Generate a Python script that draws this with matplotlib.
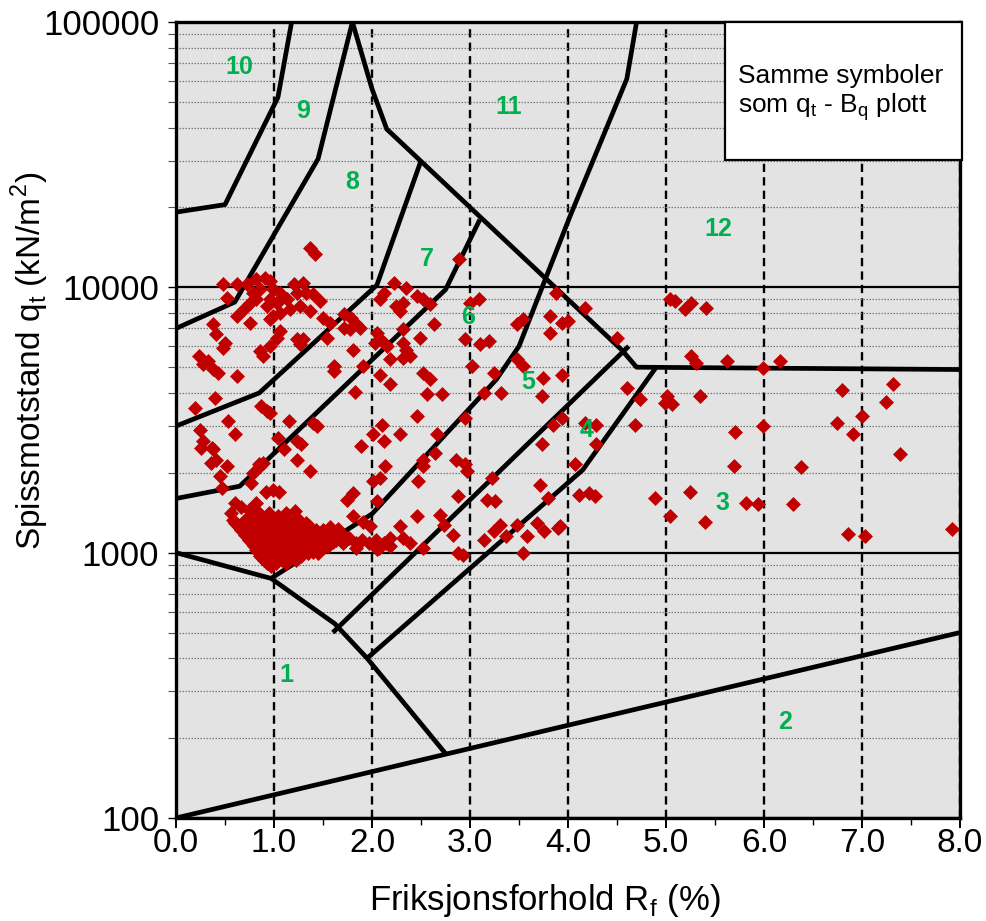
import matplotlib
matplotlib.use('Agg')
import matplotlib.pyplot as plt
from matplotlib.patches import Rectangle
from matplotlib.ticker import FixedLocator, FuncFormatter, NullFormatter

plt.rcParams['font.family'] = ['Liberation Sans', 'DejaVu Sans']
NARROW = ['Liberation Sans Narrow', 'Liberation Sans']

# ---------------- zone boundary lines (Rf %, qt kN/m2) ----------------
zone2_rf = [0.0, 8.0]
zone2_qt = [100, 500]
zone1_rf = [0.0, 0.97, 1.62, 1.95, 2.75]
zone1_qt = [1000, 800, 540, 400, 175]
zone10_rf = [0.0, 0.5, 1.04, 1.18]
zone10_qt = [19200, 20500, 52000, 100000]
zone9_rf = [0.0, 0.6, 1.45, 1.8]
zone9_qt = [7000, 8800, 30500, 100000]
zone11_rf = [1.8, 2.0, 2.15, 4.55, 4.7, 8.0]
zone11_qt = [100000, 56000, 39500, 5800, 5000, 4900]
zone8_rf = [0.0, 0.85, 2.05, 2.5]
zone8_qt = [3000, 4000, 10200, 30000]
zone7_rf = [0.0, 0.65, 2.75, 3.1]
zone7_qt = [1600, 1780, 9800, 18000]
zone6_rf = [0.97, 2.0, 3.27, 3.5, 4.02, 4.6, 4.7]
zone6_qt = [800, 1400, 4500, 6000, 18500, 61000, 100000]
zone5_rf = [1.6, 4.62]
zone5_qt = [500, 6000]
zone4_rf = [1.95, 4.15, 4.9]
zone4_qt = [400, 2050, 5000]
boundary_lines = [(zone2_rf, zone2_qt), (zone1_rf, zone1_qt), (zone10_rf, zone10_qt),
                  (zone9_rf, zone9_qt), (zone11_rf, zone11_qt), (zone8_rf, zone8_qt),
                  (zone7_rf, zone7_qt), (zone6_rf, zone6_qt), (zone5_rf, zone5_qt),
                  (zone4_rf, zone4_qt)]

# ---------------- zone labels ----------------
zone_names = ['1', '2', '3', '4', '5', '6', '7', '8', '9', '10', '11', '12']
zone_label_rf = [1.13, 6.21, 5.58, 4.19, 3.59, 2.98, 2.56, 1.80, 1.30, 0.65, 3.39, 5.53]
zone_label_qt = [347, 230, 1545, 2910, 4380, 7710, 12800, 24900, 46100, 67600, 47700, 16600]

# ---------------- measured points (Rf %, qt kN/m2) ----------------
pts_upper_left = [
    (0.48, 10260), (0.62, 10260), (0.72, 10260), (0.82, 10720), (0.91, 10870), (0.96, 10560),
    (0.86, 9830), (0.79, 9540), (0.99, 9830), (1.06, 9540), (0.96, 9010), (0.82, 9010),
    (0.76, 8750), (0.93, 8500), (1.03, 8750), (0.52, 9140), (1.13, 9010), (1.20, 10260),
    (1.30, 10420), (1.23, 9540), (1.33, 9540), (1.40, 9410), (1.47, 8880), (1.37, 8140),
    (1.27, 8500), (1.16, 8260), (1.06, 8020), (0.62, 7790), (0.76, 7350), (0.69, 8260),
    (0.99, 7790), (0.96, 7570), (1.50, 7680), (1.57, 7350), (1.06, 6840), (1.03, 6460),
    (0.96, 6000), (0.86, 5750), (0.89, 5510), (1.23, 6360), (1.30, 6360), (1.27, 6090),
    (1.54, 6460), (1.71, 7910), (1.79, 7680), (1.84, 7250), (1.78, 6940), (1.71, 7040),
    (1.88, 7040), (0.38, 7250), (0.41, 6650), (0.48, 5920), (0.50, 6180), (0.23, 5510),
    (0.28, 5120), (0.33, 5270), (0.38, 4910), (0.43, 4760), (0.62, 4630), (1.37, 14100),
    (1.42, 13400),
]
pts_left_mid = [
    (0.40, 3840), (0.19, 3520), (0.53, 3130), (0.60, 2790), (0.24, 2910), (0.28, 2630),
    (0.38, 2450), (0.41, 2240), (0.52, 2120), (0.45, 1940), (0.47, 1750), (0.79, 2000),
    (0.86, 2120), (0.89, 2180), (0.87, 3570), (0.93, 3420), (0.96, 3360), (1.15, 3130),
    (1.40, 3080), (1.44, 3000), (1.04, 2710), (1.10, 2450), (1.23, 2630), (1.28, 2560),
    (1.23, 2240), (1.37, 2030), (0.26, 2480), (0.37, 2480), (0.36, 2180), (0.92, 1700),
    (0.99, 1730), (1.05, 1700), (0.77, 1830), (0.85, 2150), (1.61, 5050), (1.61, 4830),
    (1.81, 5830), (1.91, 5050), (1.83, 4030),
]
pts_center = [
    (2.05, 6740), (2.12, 6180), (2.03, 6180), (2.08, 6360), (2.15, 6000), (2.18, 5350),
    (2.32, 6940), (2.32, 6180), (2.35, 5830), (2.39, 5510), (2.32, 5430), (2.49, 6460),
    (2.63, 7250), (2.25, 8500), (2.32, 8750), (2.29, 8140), (2.22, 10420), (2.35, 9970),
    (2.08, 9010), (2.12, 9540), (2.46, 9270), (2.52, 9010), (2.59, 8620), (2.08, 4690),
    (2.18, 4310), (2.52, 4760), (2.59, 4500), (2.46, 3270), (2.29, 2790), (2.10, 3040),
    (2.01, 2790), (2.12, 2630), (1.89, 2520), (2.13, 2120), (2.01, 1860), (2.08, 1910),
    (2.05, 1560), (2.47, 1860), (1.74, 1580), (1.81, 1680), (1.81, 1370), (1.91, 1300),
    (1.98, 1260), (2.12, 1090), (2.05, 1030), (2.18, 1140), (2.29, 1260), (2.32, 1140),
    (2.39, 1090), (2.46, 1370), (2.89, 12800),
]
pts_zone5_6 = [
    (3.24, 4760), (3.48, 5350), (3.54, 5050), (3.48, 7250), (3.54, 7570), (3.82, 6740),
    (3.88, 9540), (3.82, 7790), (3.94, 7350), (3.75, 4560), (3.94, 4690), (2.95, 6360),
    (3.10, 6090), (3.19, 6270), (3.02, 5050), (3.00, 8750), (3.09, 9010), (2.56, 3950),
    (2.71, 3950), (3.14, 4010), (3.32, 4010), (3.73, 3890), (2.66, 2790), (2.95, 3220),
    (3.85, 3040), (3.73, 2560), (2.64, 2380), (2.52, 2240), (2.52, 2120), (2.86, 2240),
    (2.95, 2150), (2.97, 2030), (3.22, 1915), (3.71, 1805), (2.88, 1633), (3.17, 1585),
    (3.26, 1563), (3.80, 1607), (2.69, 1390), (2.73, 1276), (2.83, 1169), (3.14, 1119),
    (3.24, 1203), (3.31, 1276), (3.37, 1153), (3.48, 1276), (3.58, 1153), (3.68, 1294),
    (3.76, 1203), (3.90, 1239), (2.52, 1041), (2.88, 997), (2.93, 982), (3.54, 997),
]
pts_right = [
    (4.17, 8380), (4.00, 7460), (4.50, 6460), (4.60, 4180), (4.73, 3780), (4.68, 3040),
    (4.29, 3040), (4.17, 3080), (3.94, 3220), (4.29, 2560), (4.07, 2150), (4.11, 1655),
    (4.21, 1680), (4.28, 1630), (3.92, 1260), (4.89, 1610), (5.04, 1370), (5.24, 1700),
    (5.40, 1300), (5.01, 3890), (4.99, 3665), (5.06, 3620), (5.35, 3890), (5.04, 9010),
    (5.09, 8880), (5.19, 8260), (5.26, 8750), (5.41, 8380), (5.26, 5510), (5.31, 5200),
    (5.62, 5270), (5.99, 4980), (6.16, 5270), (5.70, 2850), (5.99, 3000), (5.69, 2120),
    (5.82, 1540), (5.94, 1520), (6.30, 1520), (6.38, 2100), (6.80, 4090), (6.74, 3070),
    (6.91, 2790), (7.00, 3270), (7.24, 3690), (7.32, 4330), (7.39, 2360), (6.86, 1180),
    (7.03, 1160), (7.92, 1230),
]
pts_cluster = [
    (0.60, 1540), (0.82, 1540), (0.66, 1480), (0.74, 1450),
    (0.56, 1412), (0.85, 1412), (0.95, 1412), (1.12, 1412), (1.21, 1432), (1.04, 1380),
    (0.58, 1333), (0.70, 1333), (0.78, 1333), (0.89, 1350), (1.00, 1333), (1.14, 1340), (1.26, 1333),
    (0.60, 1294), (0.70, 1294), (0.82, 1294), (0.95, 1294), (1.05, 1294), (1.19, 1294), (1.33, 1294),
    (0.63, 1256), (0.75, 1256), (0.88, 1256), (1.00, 1256), (1.10, 1256), (1.22, 1256), (1.36, 1256),
    (0.66, 1222), (0.80, 1222), (0.92, 1222), (1.05, 1222), (1.15, 1222), (1.29, 1222), (1.43, 1222),
    (1.50, 1222), (0.73, 1195), (0.86, 1195), (0.99, 1195), (1.12, 1195), (1.25, 1195), (1.38, 1195),
    (0.70, 1169), (0.82, 1169), (0.95, 1169), (1.08, 1169), (1.20, 1169), (1.33, 1169), (1.45, 1169),
    (1.56, 1169), (0.79, 1142), (0.91, 1142), (1.04, 1142), (1.16, 1142), (1.29, 1142), (1.42, 1142),
    (0.74, 1119), (0.86, 1119), (0.98, 1119), (1.10, 1119), (1.24, 1119), (1.37, 1119), (1.50, 1119),
    (1.63, 1119),
    (0.78, 1087), (0.90, 1087), (1.02, 1087), (1.15, 1087), (1.28, 1087), (1.40, 1087), (1.52, 1087),
    (0.85, 1070), (0.97, 1070), (1.09, 1070), (1.22, 1070), (1.35, 1070), (1.47, 1070),
    (0.80, 1056), (0.92, 1056), (1.05, 1056), (1.18, 1056), (1.30, 1056), (1.42, 1056), (1.55, 1056),
    (0.82, 1026), (0.95, 1026), (1.08, 1026), (1.20, 1026), (1.33, 1026), (1.45, 1026),
    (0.89, 1010), (1.02, 1010), (1.15, 1010), (1.28, 1010), (1.40, 1010),
    (0.85, 997), (0.97, 997), (1.10, 997), (1.22, 997), (1.35, 997),
    (0.86, 968), (0.94, 968), (1.02, 968), (1.15, 968), (1.28, 968), (1.08, 980), (1.21, 980),
    (0.90, 941), (0.98, 941), (1.08, 941), (1.22, 941), (1.15, 955),
    (0.93, 914), (1.02, 914), (1.12, 914), (0.97, 888),
    (1.56, 1203), (1.63, 1153), (1.70, 1169), (1.77, 1136), (1.84, 1087), (1.90, 1119),
    (1.97, 1087), (2.04, 1119), (2.07, 1041), (2.14, 1087), (2.18, 1056), (1.70, 1087),
    (1.84, 1041), (1.60, 1100), (1.50, 1041), (1.45, 1000), (1.57, 1250), (1.65, 1230),
]
point_groups = [pts_upper_left, pts_left_mid, pts_center, pts_zone5_6, pts_right, pts_cluster]

x_ticks = [0, 1, 2, 3, 4, 5, 6, 7, 8]
y_ticks = [100, 1000, 10000, 100000]

# ---------------- figure ----------------
W, H = 987, 921
fig = plt.figure(figsize=(W / 100, H / 100), dpi=100)
ax = fig.add_axes([176 / W, 1 - 818 / H, 784 / W, 796 / H])
ax.set_facecolor('#E3E3E3')
ax.set_yscale('log')
ax.set_xlim(0, 8)
ax.set_ylim(100, 100000)

ax.xaxis.set_major_locator(FixedLocator(x_ticks))
ax.xaxis.set_minor_locator(FixedLocator([v + 0.5 for v in x_ticks[:-1]]))
ax.xaxis.set_major_formatter(FuncFormatter(lambda v, p: f'{v:.1f}'))
ax.yaxis.set_major_locator(FixedLocator(y_ticks))
ax.yaxis.set_minor_locator(FixedLocator([d * m for d in y_ticks[:-1] for m in range(2, 10)]))
ax.yaxis.set_major_formatter(FuncFormatter(lambda v, p: f'{int(v)}'))
ax.yaxis.set_minor_formatter(NullFormatter())

ax.grid(which='minor', axis='y', color='#7a7a7a', lw=0.9, ls=(0, (1.2, 1.2)), zorder=1)
ax.grid(which='major', axis='y', color='black', lw=1.6, ls='-', zorder=1)
ax.grid(which='major', axis='x', color='black', lw=1.7, ls=(0, (3.5, 2.2)), zorder=1)
ax.set_axisbelow(True)

ax.tick_params(axis='x', which='major', direction='out', length=7, width=1.4,
               labelsize=24, pad=0)
ax.tick_params(axis='x', which='minor', direction='out', length=5, width=1.0)
ax.tick_params(axis='y', which='major', direction='out', length=6, width=1.0,
               labelsize=25, pad=6)
ax.tick_params(axis='y', which='minor', direction='out', length=6, width=0.8, color='#555555')
for lbl in ax.get_xticklabels():
    lbl.set_family(NARROW)
for sp in ax.spines.values():
    sp.set_linewidth(2.4)
    sp.set_zorder(7)

for rf, qt in boundary_lines:
    ax.plot(rf, qt, color='black', lw=3.4, solid_capstyle='butt', zorder=3)

for grp in point_groups:
    rf = [p[0] for p in grp]
    qt = [p[1] for p in grp]
    ax.plot(rf, qt, ls='none', marker='D', ms=7.4, color='#C00000', mec='#C00000',
            mew=0.5, zorder=4)

for name, x, y in zip(zone_names, zone_label_rf, zone_label_qt):
    ax.text(x, y, name, color='#00B050', fontsize=18, fontweight='bold',
            ha='center', va='center', zorder=5)

# note box
ax.add_patch(Rectangle((0.700, 0.827), 0.302, 0.173, transform=ax.transAxes,
                       facecolor='white', edgecolor='black', lw=1.6, zorder=8, clip_on=False))
ax.text(0.717, 0.9234, 'Samme symboler', transform=ax.transAxes, fontsize=19,
        ha='left', va='baseline', zorder=9)
ax.text(0.717, 0.8857, r'som q$_\mathregular{t}$ - B$_\mathregular{q}$ plott',
        transform=ax.transAxes, fontsize=19, ha='left', va='baseline', zorder=9)

ax.set_xlabel(r'Friksjonsforhold R$_\mathregular{f}$ (%)', fontsize=25, family=NARROW)
ax.xaxis.set_label_coords(0.47, -0.080)
ax.set_ylabel(r'Spissmotstand q$_\mathregular{t}$ (kN/m$^\mathregular{2}$)', fontsize=24,
              family=NARROW)
ax.yaxis.set_label_coords(-0.160, 0.574)

fig.savefig('out.png', dpi=100)
